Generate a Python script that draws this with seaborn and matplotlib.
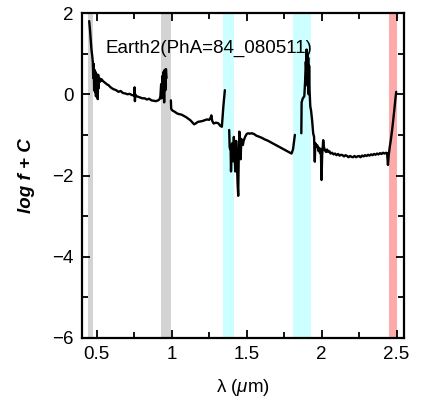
import numpy as np
import pandas as pd
import matplotlib
matplotlib.use("Agg")
import matplotlib.pyplot as plt
import seaborn as sns
from matplotlib.ticker import MultipleLocator

# ---- data ----
segA_x = [0.450, 0.455, 0.460, 0.465, 0.470, 0.474, 0.477, 0.480, 0.483, 0.486, 0.489, 0.492, 0.495,
          0.498, 0.501, 0.504, 0.507, 0.510, 0.513, 0.516, 0.520, 0.525, 0.530, 0.535, 0.540, 0.550,
          0.560, 0.570, 0.580, 0.590, 0.600, 0.615, 0.630, 0.645, 0.660, 0.675, 0.690, 0.705, 0.720,
          0.735, 0.750, 0.753, 0.755, 0.757, 0.760, 0.775, 0.790, 0.805, 0.820, 0.835, 0.850, 0.865,
          0.880, 0.895, 0.910, 0.920, 0.925, 0.930, 0.934, 0.938, 0.942, 0.946, 0.950, 0.954, 0.958,
          0.962, 0.966]
segA_y = [1.80, 1.60, 1.35, 1.10, 0.95, 0.80, 0.40, 0.75, 0.10, 0.60, 0.05, 0.55, -0.05,
          0.50, 0.00, 0.45, -0.12, 0.48, 0.15, 0.40, 0.30, 0.38, 0.33, 0.36, 0.33, 0.30,
          0.27, 0.24, 0.22, 0.18, 0.15, 0.12, 0.10, 0.06, 0.08, 0.03, 0.02, 0.00, 0.01,
          -0.02, -0.03, 0.17, -0.17, 0.00, -0.04, -0.06, -0.08, -0.10, -0.10, -0.13, -0.11, -0.15,
          -0.16, -0.17, -0.15, -0.12, -0.05, 0.25, -0.10, 0.45, 0.00, 0.55, -0.20, 0.60, 0.10,
          0.62, 0.40]

segB_x = [0.995, 0.997, 1.005, 1.020, 1.035, 1.050, 1.065, 1.080, 1.095, 1.110, 1.125, 1.140, 1.150,
          1.160, 1.175, 1.190, 1.205, 1.220, 1.235, 1.250, 1.260, 1.265, 1.270, 1.280, 1.295, 1.310,
          1.325, 1.335, 1.345, 1.355]
segB_y = [-0.15, -0.36, -0.40, -0.43, -0.47, -0.49, -0.50, -0.53, -0.56, -0.60, -0.64, -0.70, -0.74,
          -0.72, -0.68, -0.67, -0.66, -0.64, -0.62, -0.63, -0.58, -0.52, -0.65, -0.72, -0.70, -0.71,
          -0.78, -0.80, -0.30, 0.10]

segC_x = [1.384, 1.387, 1.390, 1.393, 1.396, 1.400, 1.405, 1.410, 1.415, 1.420, 1.425, 1.430, 1.435,
          1.440, 1.444, 1.448, 1.452, 1.456, 1.460, 1.465, 1.470, 1.475, 1.480, 1.490, 1.500, 1.510,
          1.520, 1.535, 1.550, 1.565, 1.580, 1.600, 1.620, 1.640, 1.660, 1.680, 1.700, 1.720, 1.740,
          1.760, 1.780, 1.800, 1.810, 1.822]
segC_y = [-0.88, -1.30, -1.35, -1.25, -1.90, -1.40, -1.20, -1.65, -1.05, -1.55, -1.90, -1.15, -1.60,
          -2.20, -2.50, -1.40, -0.92, -1.30, -1.60, -1.10, -1.15, -1.25, -1.15, -1.05, -0.98, -0.96,
          -0.97, -0.96, -0.98, -1.02, -1.04, -1.07, -1.11, -1.14, -1.18, -1.22, -1.26, -1.30, -1.34,
          -1.38, -1.42, -1.46, -1.35, -1.00]

segD_x = [1.865, 1.867, 1.875, 1.885, 1.890, 1.895, 1.898, 1.900, 1.903, 1.906, 1.908, 1.911, 1.914,
          1.917, 1.920, 1.925, 1.930, 1.937, 1.944, 1.950, 1.955, 1.958, 1.965, 1.970, 1.975, 1.980,
          1.985, 1.990, 1.995, 2.000, 2.004, 2.011, 2.016, 2.022, 2.030, 2.037, 2.044, 2.052, 2.060,
          2.070, 2.080, 2.090, 2.100, 2.110, 2.120, 2.130, 2.140, 2.150, 2.160, 2.170, 2.180, 2.190,
          2.200, 2.210, 2.220, 2.230, 2.240, 2.250, 2.260, 2.270, 2.280, 2.290, 2.300, 2.310, 2.320,
          2.330, 2.340, 2.350, 2.360, 2.370, 2.380, 2.390, 2.400, 2.410, 2.420, 2.430, 2.437, 2.443,
          2.448, 2.455, 2.462, 2.470, 2.478, 2.485, 2.492, 2.498]
segD_y = [-0.96, -0.20, -0.10, -0.05, 0.30, 0.80, 0.60, 1.10, 0.50, 1.00, 0.20, 0.90, 0.00,
          0.70, 0.10, -0.30, -0.40, -0.64, -0.96, -1.05, -1.66, -1.20, -1.30, -1.25, -1.29, -1.40,
          -1.32, -1.45, -1.35, -2.11, -1.50, -1.13, -1.30, -1.38, -1.42, -1.36, -1.42, -1.40, -1.46,
          -1.44, -1.48, -1.46, -1.50, -1.47, -1.51, -1.49, -1.50, -1.53, -1.50, -1.52, -1.55, -1.52,
          -1.54, -1.55, -1.52, -1.55, -1.53, -1.52, -1.55, -1.51, -1.53, -1.50, -1.52, -1.49, -1.51,
          -1.48, -1.50, -1.47, -1.49, -1.46, -1.48, -1.45, -1.47, -1.44, -1.46, -1.44, -1.45, -1.74,
          -1.50, -1.30, -1.13, -0.90, -0.64, -0.40, -0.14, 0.06]

band_ranges = [(0.441, 0.474), (0.927, 0.998), (1.342, 1.415), (1.810, 1.930), (2.450, 2.500)]
band_colors = ["#d3d3d3", "#d3d3d3", "#ccffff", "#ccffff", "#ffaaaa"]

label_text = "Earth2(PhA=84_080511)"

segments = [(segA_x, segA_y), (segB_x, segB_y), (segC_x, segC_y), (segD_x, segD_y)]
df = pd.concat(
    [pd.DataFrame({"wl": sx, "flux": sy, "seg": i}) for i, (sx, sy) in enumerate(segments)],
    ignore_index=True,
)

# ---- plot ----
sns.set_style("ticks")
plt.rcParams["font.family"] = ["Liberation Sans", "DejaVu Sans"]
plt.rcParams["mathtext.fontset"] = "custom"
plt.rcParams["mathtext.rm"] = "Liberation Sans"
plt.rcParams["mathtext.it"] = "Liberation Sans:italic"
plt.rcParams["text.color"] = "black"
plt.rcParams["axes.labelcolor"] = "black"
plt.rcParams["xtick.color"] = "black"
plt.rcParams["ytick.color"] = "black"
plt.rcParams["axes.edgecolor"] = "black"

FS = 13.5

fig = plt.figure(figsize=(4.21, 4.08), dpi=100)
ax = fig.add_axes([81.7 / 421, (408 - 338) / 408, (404 - 81.7) / 421, (338 - 13) / 408])

for (lo, hi), c in zip(band_ranges, band_colors):
    ax.axvspan(lo, hi, color=c, lw=0, zorder=0)

sns.lineplot(data=df, x="wl", y="flux", units="seg", estimator=None, sort=False,
             color="black", lw=1.7, ax=ax, zorder=3)

ax.set_xlim(0.4, 2.55)
ax.set_ylim(-6, 2)
ax.xaxis.set_major_locator(MultipleLocator(0.5))
ax.xaxis.set_minor_locator(MultipleLocator(0.25))
ax.yaxis.set_major_locator(MultipleLocator(2))
ax.yaxis.set_minor_locator(MultipleLocator(1))
ax.set_xticks([0.5, 1, 1.5, 2, 2.5])
ax.set_xticklabels(["0.5", "1", "1.5", "2", "2.5"])
ax.set_yticks([-6, -4, -2, 0, 2])
ax.set_yticklabels(["\u22126", "\u22124", "\u22122", "0", "2"])
ax.tick_params(which="both", direction="in", top=True, right=True, width=1.3,
               labelsize=FS, pad=6, color="black", labelcolor="black")
ax.tick_params(which="major", length=6)
ax.tick_params(which="minor", length=4)
for s in ax.spines.values():
    s.set_linewidth(1.6)
    s.set_color("black")

ax.set_xlabel(r"λ ($\mu$m)", fontsize=FS, labelpad=10, color="black")
ax.set_ylabel("log f + C", fontsize=FS, fontweight="bold", fontstyle="italic",
              labelpad=12, color="black")
ax.text(0.556, 1.14, label_text, ha="left", va="center", fontsize=FS, zorder=4, color="black")

fig.savefig("out.png", dpi=100)
